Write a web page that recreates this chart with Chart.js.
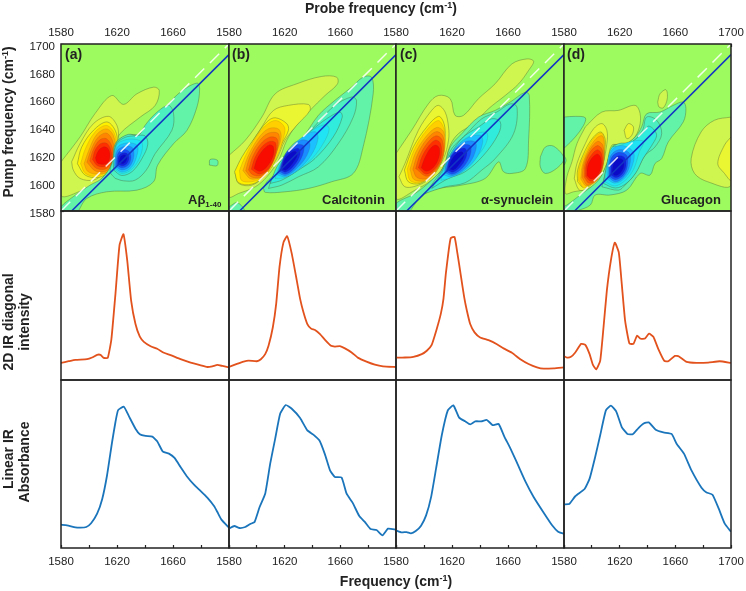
<!DOCTYPE html>
<html>
<head>
<meta charset="utf-8">
<title>2D IR spectra</title>
<script src="https://cdn.jsdelivr.net/npm/chart.js@4"></script>
<style>
  html, body { margin: 0; padding: 0; background: #fff; }
  #page { position: relative; width: 746px; height: 591px; overflow: hidden; font-family: "Liberation Sans", Arial, sans-serif; color: #222; }
  canvas { position: absolute; left: 0; top: 0; }
  .t { position: absolute; font-weight: bold; font-size: 14px; white-space: nowrap; line-height: 16px; z-index: 5; }
  .c { transform: translate(-50%, -50%); }
  .r { transform: translate(-50%, -50%) rotate(-90deg); }
  sup { font-size: 9px; line-height: 0; vertical-align: 5px; }
  sub { font-size: 8px; line-height: 0; vertical-align: -3px; }
</style>
</head>
<body>
<div id="page">
  <div class="t c" style="left:381px;top:8px">Probe frequency (cm<sup>-1</sup>)</div>
  <div class="t c" style="left:396px;top:581px">Frequency (cm<sup>-1</sup>)</div>
  <div class="t r" style="left:8px;top:122px">Pump frequency (cm<sup>-1</sup>)</div>
  <div class="t r" style="left:8px;top:322px">2D IR diagonal</div>
  <div class="t r" style="left:24px;top:322px">intensity</div>
  <div class="t r" style="left:8px;top:459px">Linear IR</div>
  <div class="t r" style="left:24px;top:462px">Absorbance</div>
  <div class="t" style="left:65px;top:46px">(a)</div>
  <div class="t" style="left:232px;top:46px">(b)</div>
  <div class="t" style="left:400px;top:46px">(c)</div>
  <div class="t" style="left:567px;top:46px">(d)</div>
  <div class="t" style="left:188px;top:192px;font-size:13px">Aβ<sub>1-40</sub></div>
  <div class="t" style="left:322px;top:192px;font-size:13px">Calcitonin</div>
  <div class="t" style="left:481px;top:192px;font-size:13px">α-synuclein</div>
  <div class="t" style="left:661px;top:192px;font-size:13px">Glucagon</div>
</div>
<script>
// Tick labels
const probeLabels = [1580, 1620, 1660];
const lastProbeLabels = [1580, 1620, 1660, 1700];
const pumpLabels = [1580, 1600, 1620, 1640, 1660, 1680, 1700];

// Diagonal reference lines of the 2D maps
const whiteDiagX = [1580, 1700];
const whiteDiagY = [1580, 1700];
const blueDiagX = [1587.6, 1700];
const blueDiagY = [1580, 1692.4];

// 2D IR diagonal traces
const diagFreqA = [1580,1585.5,1590.3,1598.6,1602.2,1605.8,1608.2,1610.5,1613.4,1616,1618.9,1621.8,1624.6,1627.3,1630.1,1633.2,1636.3,1639.2,1644,1648.7,1653.5,1658.3,1665.4,1672.6,1679.8,1684.5,1688.1,1691.7,1695.3,1700];
const diagA = [10.1,11.1,11.9,12.3,13.3,14.9,14.9,13.1,13.1,24.2,51,79.8,86.3,70.8,47,33.1,25.6,22.6,20,18.5,16.1,14.7,12.3,10.3,8.7,7.7,8.1,8.9,8.3,7.5];
const diagFreqB = [1580,1585.7,1590.5,1594.1,1600,1602.9,1606,1608.4,1611.5,1613.9,1616.3,1619.1,1621.8,1625.1,1628.7,1631.1,1633.5,1636.3,1639,1641.8,1645.4,1649,1653.3,1656.1,1659.7,1663.3,1668.1,1672.8,1678.8,1684.8,1690.7,1700];
const diagB = [7.7,9.5,10.9,11.5,11.1,12.3,15.3,20.2,31.2,45,66.9,81.3,85.1,74.8,58.9,48,40.1,33.1,30.4,29.6,27.2,23.8,20.2,19.8,20,18.7,16.3,13.1,10.9,9.1,8.1,7.7];
const diagFreqC = [1580,1586.4,1592.4,1598.4,1602,1605.5,1609.1,1612,1613.9,1615.6,1617.5,1619.1,1621.8,1623.9,1626.3,1628.7,1630.6,1633,1636.1,1640.1,1646.1,1652.1,1656.8,1662.8,1668.8,1674.7,1680.7,1685.5,1692.6,1700];
const diagC = [13.3,13.3,13.7,15.3,17.3,20.8,30.2,39.1,48,62.9,75.8,83.9,84.7,74.8,61.9,49,41.1,33.1,28.2,25.2,23.6,21.2,18.7,16.1,12.3,9.5,7.5,6.7,6.9,7.5];
const diagFreqD = [1580,1582.1,1585,1588.1,1592.4,1595.3,1598.4,1600.8,1603.2,1606,1608.4,1610.8,1613.7,1616.5,1619.4,1621.5,1623.9,1627,1629.9,1632.5,1635.1,1638.2,1641.1,1644.2,1647.8,1652.1,1654.9,1659.7,1662.6,1668.1,1675.2,1683.6,1691.9,1700];
const diagD = [14.1,13.3,13.7,16.3,21.4,20.8,15.3,8.9,6.3,11.3,31.2,53,70.8,81.3,75.4,56.9,35.1,21.6,21.4,26.2,24.4,24.6,27.4,25.6,18.3,11.3,11.1,14.3,13.9,10.7,10.1,10.3,11.1,10.1];

// Linear IR traces
const linFreqA = [1580,1584.3,1590.3,1593.8,1598.1,1601.5,1605.8,1609.4,1612.9,1616.5,1618.9,1620.8,1624.9,1628.4,1633.2,1636.3,1640.4,1645.2,1648.7,1652.8,1657.1,1661.1,1665.4,1669.7,1675,1679.8,1684.5,1689.3,1691.7,1694.6,1700];
const linA = [13.9,13.5,12.3,12.1,12.5,14.7,20.4,29,43.3,63.1,75,82.1,84.1,78.6,71,67.7,66.7,66.3,63.5,57.3,56.2,53.6,48.2,42.9,37.7,33.9,30,25,21.4,16.9,12.1];
const linFreqB = [1580,1583.8,1587.6,1591.7,1595.3,1598.4,1602,1606,1609.6,1613.2,1616.8,1620.8,1625.1,1631.1,1636.3,1640.6,1644.9,1649,1652.6,1656.1,1660.9,1664.5,1668.8,1673.6,1677.6,1681.7,1686,1690.3,1694.3,1700];
const linB = [11.5,13.1,11.9,12.5,14.3,15.5,24.4,32.3,50.2,65.1,80,85.1,82.9,77.4,70,67.5,64.1,55.6,46.2,42.3,41.9,32.3,27,19,15.5,11.3,10.7,7.5,11.5,10.9];
const linFreqC = [1580,1584.1,1587.6,1590.7,1594.1,1597.9,1601.5,1605.1,1608.6,1612.7,1617,1621,1625.1,1629.4,1633,1636.6,1640.9,1644.9,1649,1653.3,1657.3,1661.6,1666.4,1672.4,1678.3,1685.5,1691.5,1695.8,1700];
const linC = [10.5,9.3,9.5,8.7,10.1,13.3,19.4,30.4,47.2,67.1,81.9,84.9,77.6,75.4,73.6,75.4,75.4,76.2,73.2,73.8,66.5,59.5,50.8,39.7,30.4,21,13.5,9.7,8.5];
const linFreqD = [1580,1583.8,1588.1,1594.8,1598.4,1602.4,1606,1610.1,1613.7,1617.5,1621.5,1625.6,1629.4,1633.5,1637,1640.9,1645.9,1651.4,1657.3,1660.9,1666.2,1671.6,1678.8,1682.4,1686.7,1691.2,1695.5,1700];
const linD = [26,26.2,30.8,35.1,41.3,54.2,67.1,81.9,84.7,81.3,72,67.9,67.7,71.4,74,74.8,70.4,68.8,67.9,62.1,56.2,46.2,35.9,33.1,31.7,23.4,14.5,9.7];

// Contours read from the maps: first number is the level (+ red side, - blue side),
// then probe,pump pairs in cm-1. Drawn in this order, outermost first.
const ringsA = [
  [1, 1580,1615.3,1593.6,1633.2,1604.3,1650,1616.3,1663,1624.6,1656.6,1634.2,1664.2,1646.1,1669,1650.2,1666.6,1647.3,1655.9,1636.6,1647.5,1622.2,1635.6,1619.4,1628.4,1616.3,1614,1610.3,1604.6,1603.2,1597.4,1596,1595,1580,1591],
  [2, 1587.6,1615.3,1593.6,1628.4,1603.2,1642.8,1613.9,1648,1619.9,1641.6,1621,1633.2,1618.7,1623.7,1616.3,1615.3,1610.3,1607,1603.2,1602.2,1593.6,1603.4,1588.8,1609.4],
  [3, 1591.7,1614,1594.8,1626,1603.2,1638,1612.7,1644,1618.7,1638,1620.3,1628.4,1618,1617.7,1613.9,1608.2,1606.7,1604.1,1597.2,1605.8],
  [4, 1594,1614,1597.5,1625,1604.5,1637,1612.5,1641.5,1618,1636,1619.7,1625,1616,1611,1606,1605,1597.5,1607],
  [5, 1596.5,1614,1600,1624,1605.5,1635,1612.5,1639,1617.5,1634,1619,1622,1614.5,1609,1605.5,1606.5,1599,1608.5],
  [6, 1598.5,1615,1601.5,1624,1606.5,1633,1612.5,1636,1617,1630,1618,1619,1613.5,1609.5,1605,1608.5],
  [7, 1600.5,1616,1603,1624,1607.5,1631,1612.5,1632,1616.5,1626,1617,1617,1612.5,1610.5,1605.5,1610.5],
  [8, 1602.5,1617,1604.5,1624,1608.5,1628.5,1613,1628.5,1616,1622,1615.5,1615.5,1611.5,1612,1606,1612.5],
  [9, 1604.5,1618,1606.5,1623,1610,1626,1613.5,1625,1615,1620,1613.5,1615,1610,1613.5,1606,1614.5],
  [-1, 1592.4,1580,1598.4,1589,1612.7,1593.8,1634.2,1595,1646.1,1601,1649,1612.9,1660.4,1628.4,1670,1638,1677.1,1654.7,1679,1667.8,1677.1,1671.9,1665.2,1665.4,1655.7,1655.9,1646.1,1646.3,1636.6,1635.6,1627,1634.4,1618.7,1628.4,1616.3,1614.1,1609.1,1603.4,1600.8,1598.6,1588.8,1590.3,1580,1583.1,1580,1580],
  [-1, 1686,1613,1691.5,1612.6,1691.7,1616.5,1686.5,1617],
  [-2, 1618.7,1603.4,1624.6,1601.7,1633,1602.2,1640.9,1609.4,1647.3,1621.3,1659.2,1638,1660.4,1649.9,1656.8,1655.9,1647.3,1649.9,1640.1,1641.6,1635.4,1634.4,1628.2,1635.1,1619.9,1629.6,1617,1616.5,1615.1,1608.2],
  [-3, 1617.5,1609.5,1623.4,1605.5,1631,1608.5,1638,1618,1642,1628,1640,1634,1633,1634,1626,1633,1620,1628.5,1617.5,1618],
  [-4, 1617.7,1610.5,1623.5,1607,1630.5,1610,1636.5,1619,1638,1629,1633,1631.5,1625.5,1631,1619.5,1627],
  [-5, 1618,1611.5,1623.5,1608,1630,1611,1634,1619,1634.5,1627,1627.5,1629,1620,1625.5],
  [-6, 1618.5,1612.5,1623.5,1609.5,1629,1612,1632,1619,1631,1625.5,1625.5,1626.5,1620,1623],
  [-7, 1619.5,1613.5,1623.5,1611,1628,1613,1630,1618.5,1628.5,1623,1624,1624,1620.5,1621],
  [-8, 1620.5,1614,1623.5,1612.5,1627,1614,1628.5,1618,1627,1621.5,1623.5,1621.5,1621,1619],
  [-9, 1621.5,1615,1624,1614,1626.5,1616,1627,1619,1625,1620.5,1622.5,1619]
];
const ringsB = [
  [1, 1580,1620,1591.7,1630.8,1603.6,1647.5,1613.2,1664.2,1628.7,1671.4,1646.6,1676.7,1657.3,1676.2,1658,1671.4,1649,1663,1638.2,1652.3,1627.5,1640.4,1621.5,1630.8,1615.6,1616.5,1607.2,1604.6,1598.9,1597.4,1586.9,1592.6,1580,1590.3],
  [2, 1584.5,1607,1591.7,1621.3,1603.6,1640.4,1612,1652.3,1622.7,1655.9,1637,1656.6,1638.2,1652.3,1628.7,1641.6,1620.3,1630.8,1614.4,1617.7,1606,1605.8,1596.5,1598.6,1586.9,1599.8],
  [3, 1584,1608.2,1589.3,1618.9,1598.9,1633.2,1607.2,1644,1613.2,1647,1621.5,1642.8,1622.7,1638,1618,1628.4,1613.2,1617.7,1604.8,1604.6,1596.5,1599.3,1586.9,1600.3],
  [4, 1587.5,1609,1591.5,1619,1599,1632.5,1607,1642,1614,1645,1620,1640,1619,1632,1615,1620,1606,1605,1596,1601,1589,1602],
  [5, 1590,1609,1593.5,1619,1600.5,1631.5,1608,1639,1615.5,1639,1617.5,1633,1613.5,1621,1605.5,1606,1596,1603],
  [6, 1592,1609,1595,1619,1601.5,1630,1608.5,1636,1615.5,1635.5,1615.5,1627,1611,1614,1604,1604.5,1596,1604.5],
  [7, 1594,1609.5,1597,1619,1602.5,1628,1609,1633,1614.5,1632,1614.5,1624,1610,1612,1603,1605.5,1597,1606],
  [8, 1596,1610,1598.5,1618,1603.5,1626,1609,1630,1613.5,1629,1613,1620,1608.5,1610.5,1602,1606.5],
  [9, 1598,1610.5,1600,1617,1604.5,1624,1609,1627.5,1612,1626,1611.5,1619,1607,1611.5,1602,1608.5],
  [-1, 1580,1583,1586,1586,1591,1580,1580,1580],
  [-1, 1604.8,1596.2,1606,1593.4,1620.3,1593.8,1637,1596.2,1653.7,1601,1669.3,1607,1676.4,1626.1,1683.6,1664.2,1682.4,1676.2,1676.4,1676.2,1668.1,1669,1656.1,1659.5,1644.2,1648.7,1632.3,1632,1626.3,1628.4,1619.1,1618.9,1613.2,1607,1607.2,1601],
  [-2, 1608.4,1596.2,1617.9,1598.6,1629.9,1604.6,1644.2,1611.7,1658.5,1628.4,1669.3,1647.5,1671.6,1659.5,1668.1,1661.9,1656.1,1655.9,1645.4,1645.2,1633.5,1632,1623.9,1621.3,1616.8,1612.9,1610.8,1603.4],
  [-3, 1609.6,1599.8,1618,1602.2,1629.9,1609.4,1641.8,1617.7,1654.9,1633.2,1661.4,1647.5,1659.7,1651.1,1650.2,1646.3,1639.4,1638,1629.9,1629.6,1621.5,1621.3,1614.4,1611.7],
  [-4, 1613.2,1603.4,1620,1604,1630,1609.5,1640,1618,1648,1629,1652,1639,1649,1642,1640,1638,1630,1630,1622,1621,1616,1612],
  [-5, 1614.5,1606,1621,1604.5,1630,1610,1639,1620,1644,1632,1642,1637,1634,1634,1625,1626,1617.5,1614.5],
  [-6, 1615,1607.5,1621,1605.5,1629,1611,1636,1620,1638,1629,1632,1631,1624,1624.5,1618,1615],
  [-7, 1616,1608.5,1621,1606.5,1628,1612,1633,1620.5,1633.5,1627,1627,1627,1620.5,1621],
  [-8, 1617,1609.5,1621,1608,1627,1613,1631,1620.5,1630,1625,1625,1623.5,1620,1619],
  [-9, 1618,1610,1621,1609.5,1625.5,1614,1629,1620,1627.5,1623,1623.5,1621,1620,1617]
];
const ringsC = [
  [1, 1580,1621.3,1591.2,1638,1603.2,1657.1,1610.3,1663,1618.7,1660.7,1622.2,1648.7,1628.2,1648.7,1638.9,1660.7,1650.8,1671.4,1662.8,1685.7,1673.6,1689.3,1678.3,1687.6,1674.7,1681,1667.6,1671.4,1658,1663,1646.1,1653.5,1635.4,1642.8,1624.6,1635.6,1618.7,1627.3,1613.9,1611.7,1605.5,1602.2,1593.6,1595,1580,1589],
  [2, 1582.1,1604.6,1586.4,1614.1,1596,1638,1605.5,1652.3,1610.3,1655.9,1615.1,1651.1,1617.5,1640.4,1617.5,1630.8,1613.9,1617.7,1605.5,1604.6,1596,1598.6,1586.4,1597.4],
  [3, 1586,1609.4,1592.4,1626,1602,1640.4,1610.3,1648,1613.9,1644,1615.1,1635.6,1612.7,1620,1605.5,1607,1597.2,1599.8,1588.8,1601],
  [4, 1588,1610,1593,1624,1601,1637,1610,1645,1614,1640,1615,1632,1612.5,1619,1605,1605,1597,1600.5,1590,1602],
  [5, 1590,1610,1594,1622,1601,1633,1609,1640,1614,1637,1615,1626,1611,1612,1603,1602.5,1593,1602.5],
  [6, 1592,1610,1595.5,1621,1601.5,1631,1608.5,1637,1613.5,1634,1614.5,1623,1610,1611,1602.5,1603.5,1595,1604],
  [7, 1594,1610.5,1597,1620,1602.5,1629,1608.5,1634,1613,1631,1613.5,1620,1609,1610.5,1602,1605],
  [8, 1596,1611,1598.5,1619,1603.5,1627,1608.5,1631,1612,1628,1612,1618,1607.5,1610,1601.5,1606.5],
  [9, 1598,1611,1600.5,1618,1604.5,1625,1608.5,1627.5,1611,1625,1610.5,1618,1606.5,1611,1601.5,1608.5],
  [-1, 1590,1580,1596,1587.9,1605.5,1595,1627,1598.6,1643.7,1603.4,1653.3,1615.3,1656.8,1608.2,1662.8,1607,1672.4,1610.5,1674.7,1630.8,1675.2,1663,1672.4,1665.4,1661.6,1658.3,1650.9,1652.3,1639,1647.5,1627,1635.6,1618.7,1626,1613.9,1611.7,1605.5,1602.2,1593.6,1592.6,1580,1585.5,1580,1580],
  [-1, 1683.1,1618.9,1686.7,1626,1692.7,1626.5,1700,1617.7,1694.6,1610.5,1686.7,1607,1683.1,1611.7],
  [-2, 1600.8,1592.6,1615.1,1597.4,1629.4,1600.3,1641.3,1609.4,1650.9,1617.7,1664,1635.6,1666.4,1654.7,1661.6,1657,1652,1651.1,1641.3,1646.3,1629.4,1634.4,1619.9,1624.9,1612.7,1609.4],
  [-3, 1605.5,1596.2,1617.5,1603.4,1629.4,1608.2,1642.5,1620,1653.3,1635.6,1654.5,1644,1648.5,1646.3,1639,1640.4,1628.2,1633.2,1619.9,1622.5,1612.7,1608.2],
  [-4, 1612,1602,1618,1603.5,1628,1609,1636,1617,1644,1628,1645,1636,1638,1636,1628,1631,1620,1622,1614,1610],
  [-5, 1614,1606,1620,1604.5,1630,1610,1638,1619,1642,1630,1640,1634.5,1631,1632.5,1621,1624,1615.5,1612.5],
  [-6, 1615,1607.5,1620.5,1605.5,1629,1610.5,1635.5,1619.5,1637,1629,1630,1630,1621,1623,1616,1614],
  [-7, 1615.5,1608.5,1620.5,1606.5,1628,1611.5,1633,1620,1633,1627,1626.5,1627,1619.5,1620],
  [-8, 1616.5,1609.5,1621,1608,1627,1613,1630.5,1620,1629.5,1625,1624.5,1624,1619,1618.5],
  [-9, 1617.5,1610.5,1621,1609.5,1625.5,1614,1628.5,1619.5,1627,1622.5,1623,1621,1619.5,1616.5]
];
const ringsD = [
  [-1, 1580,1647.5,1588.1,1648,1595.3,1647,1594.1,1641.6,1588.1,1633.2,1581,1626,1580,1625.6],
  [-1, 1580,1620,1581.5,1616.5,1580,1613],
  [1, 1595.3,1640.4,1607.2,1651.1,1619.1,1652.3,1631.1,1655.9,1634.7,1649.9,1634.2,1640.4,1629.9,1632,1621.5,1627.3,1614.4,1627.3,1610.8,1614.1,1604.8,1602.2,1597.7,1596.2,1586.9,1593.8,1581,1592.6,1582.1,1604.6,1585.7,1615.3,1589.3,1628.4],
  [2, 1623.2,1638,1626.3,1642.8,1629.9,1640.4,1628.7,1634.4,1625.1,1632],
  [1, 1647.3,1658.3,1649,1664.2,1653.3,1667.1,1654.2,1660.7,1651.4,1654.2,1648.3,1654.7],
  [1, 1700,1647.5,1688.1,1645.2,1678.5,1636.8,1671.4,1617.7,1673.8,1607,1683.3,1601,1700,1598.6],
  [2, 1700,1633.2,1695.3,1627.3,1690.5,1614.1,1695.3,1607,1700,1602.2],
  [2, 1587.4,1603.4,1589.3,1614.1,1595.3,1628.4,1601.2,1639,1607.2,1642.8,1610.8,1638,1610.8,1628.4,1607.2,1611.7,1601.2,1601,1594.1,1595,1590.5,1595.5],
  [3, 1589.8,1601,1589.8,1609.4,1595.3,1623.7,1601.2,1633.2,1606.5,1636.8,1609.5,1632,1609.5,1626,1607.5,1611.7,1601,1602.2,1594,1597],
  [4, 1590.5,1602,1591,1611,1596,1623,1601.5,1632.5,1607,1636,1609,1631,1609,1624,1606.5,1611.5,1600.5,1601.5,1594.5,1596.5],
  [5, 1592,1603,1593,1612,1597,1623,1603,1632,1607.5,1634,1609,1627,1607,1612,1601.5,1602,1596,1598],
  [6, 1593,1604,1594,1613,1598,1623,1604,1630,1608,1627,1608.5,1614,1604,1602.5,1597,1598.5],
  [7, 1594.5,1604.5,1595,1613,1598.5,1622,1604,1627,1607.5,1624,1608,1613,1604,1603,1598,1600],
  [8, 1595.5,1605,1596,1613,1599.5,1620,1604,1624,1607,1621,1607.5,1612,1604,1604,1599,1601.5],
  [9, 1596.5,1605.5,1597,1612,1600,1618,1604,1621,1606.5,1618,1606.5,1611,1603.5,1605,1599.5,1603],
  [-1, 1589.3,1580,1598.9,1584.3,1602.4,1591.5,1613.2,1591.5,1625.1,1595,1634.7,1607,1641.8,1605.8,1645.4,1614.1,1650.2,1617.7,1654.9,1629.6,1665.7,1644,1667.6,1653.5,1665.7,1658.3,1658.5,1655.9,1649,1651.1,1639.4,1649.9,1635.8,1640.4,1631.1,1633.2,1622.7,1627.3,1615.6,1627.3,1610.8,1614.1,1604.8,1602.2,1591.7,1591.5,1582.1,1584.3,1580,1583,1580,1580],
  [-2, 1607.2,1597.4,1619.1,1595,1623.9,1598.6,1631.1,1607,1638.2,1620,1645.4,1626,1650.2,1635.6,1646.6,1645.2,1639.4,1647.5,1636.4,1638,1628.7,1629.6,1619.1,1628.4,1614.4,1624.9,1610.8,1611.7],
  [-3, 1608.4,1599.8,1617,1596.5,1625,1600,1632,1608,1637,1618,1643,1627,1646.5,1635,1641,1641,1636.5,1636,1627,1628.5,1620,1626.5,1614.5,1625,1610.5,1612],
  [-4, 1609.5,1601,1616.5,1598,1624,1602,1630,1610,1634,1622,1637,1630,1628,1630,1620,1627,1614,1625,1611,1613],
  [-5, 1611,1603,1616.5,1600,1623,1603,1628.5,1611,1630,1622,1622,1627,1614.5,1624,1611.5,1614],
  [-6, 1612,1604,1617,1601,1623,1604.5,1627,1612,1627,1621.5,1619,1624,1613,1618.5],
  [-7, 1612.5,1605,1617,1602.5,1622.5,1605.5,1625.5,1612,1625,1620,1618.5,1622,1613.5,1617],
  [-8, 1613.5,1606,1617.5,1604,1622,1607,1624.5,1612.5,1623.5,1618.5,1618.5,1619.5,1614.5,1615],
  [-9, 1614.5,1607,1617.5,1605.5,1621,1608,1623,1612.5,1622,1617,1618.5,1617.5,1615.5,1613.5]
];

// Contour fill per level
const mapBackground = '#9dfb5f';
const redLevels = ['#cff64e', '#eaf632', '#fff000', '#ffcf00', '#ffaa00', '#ff8500', '#ff5c00', '#ff3000', '#f80c00'];
const blueLevels = ['#62f3a8', '#4cf0c0', '#30ecdc', '#20e4f4', '#1cc0ff', '#1a8cff', '#1650f4', '#1020e0', '#0a0ac8'];

// Panel edges in page pixels
const colEdges = [61, 229, 396, 564, 731];
const rowEdges = [44, 211, 380, 548];
const axisSize = { top: 30, left: 50, bottom: 30 };
const tickFont = { family: '"Liberation Sans", Arial, sans-serif', size: 11.5 };

function toPoints(xs, ys) {
  return xs.map((x, i) => ({ x: x, y: ys[i] }));
}

function ringPoints(ring) {
  const pts = [];
  for (let i = 1; i < ring.length; i += 2) pts.push({ x: ring[i], y: ring[i + 1] });
  pts.push(pts[0]);
  return pts;
}

// Plot background and frame
const framePlugin = {
  id: 'frame',
  beforeDatasetsDraw(chart, args, opts) {
    if (!opts.fill) return;
    const a = chart.chartArea;
    chart.ctx.fillStyle = opts.fill;
    chart.ctx.fillRect(a.left, a.top, a.width, a.height);
  },
  afterDraw(chart) {
    const a = chart.chartArea;
    chart.ctx.strokeStyle = '#222';
    chart.ctx.lineWidth = 1.5;
    chart.ctx.strokeRect(a.left, a.top, a.width, a.height);
  }
};

// Inward tick marks on a visible axis, with the size fixed so plots line up
function tickAxis(position, size, labels) {
  return {
    type: 'linear', position: position, min: 1580, max: 1700,
    afterFit(scale) {
      if (position === 'left') scale.width = size; else scale.height = size;
      scale.paddingLeft = scale.paddingRight = scale.paddingTop = scale.paddingBottom = 0;
    },
    border: { display: false },
    grid: { drawOnChartArea: false, tickLength: -3, tickColor: '#222', tickWidth: 1.2 },
    ticks: {
      stepSize: 20, autoSkip: false, maxRotation: 0,
      padding: position === 'top' ? 7 : (position === 'bottom' ? 10 : 9),
      labelOffset: position === 'left' ? 2.5 : 0,
      color: '#222', font: tickFont,
      callback: v => labels.includes(v) ? String(v) : ''
    }
  };
}

function hiddenAxis(min, max) {
  return { type: 'linear', display: false, min: min, max: max };
}

function addPanel(col, row, datasets, scales, fill) {
  const canvas = document.createElement('canvas');
  canvas.width = 746;
  canvas.height = 591;
  document.getElementById('page').appendChild(canvas);
  const padding = {
    left: colEdges[col] - (scales.y.display === false ? 0 : axisSize.left),
    right: 746 - colEdges[col + 1],
    top: rowEdges[row] - (scales.x.position === 'top' ? axisSize.top : 0),
    bottom: 591 - rowEdges[row + 1] - (scales.x.position === 'bottom' ? axisSize.bottom : 0)
  };
  new Chart(canvas, {
    type: 'scatter',
    data: { datasets: datasets },
    options: {
      responsive: false,
      animation: false,
      layout: { padding: padding },
      scales: scales,
      plugins: { legend: { display: false }, tooltip: { enabled: false }, frame: { fill: fill } }
    },
    plugins: [framePlugin]
  });
}

function traceDataset(xs, ys, color) {
  return { data: toPoints(xs, ys), showLine: true, borderColor: color, borderWidth: 1.8, pointRadius: 0, tension: 0.15 };
}

function mapDatasets(rings) {
  const sets = rings.map((ring, i) => {
    const level = ring[0];
    return {
      data: ringPoints(ring),
      showLine: true,
      fill: 'shape',
      backgroundColor: level > 0 ? redLevels[level - 1] : blueLevels[-level - 1],
      borderColor: Math.abs(level) <= 3 ? 'rgba(70,90,50,0.55)' : 'rgba(70,60,50,0.2)',
      borderWidth: 0.7,
      pointRadius: 0,
      tension: 0.35,
      order: rings.length - i + 2
    };
  });
  sets.push({
    data: toPoints(blueDiagX, blueDiagY), showLine: true, borderColor: '#1234c4', borderWidth: 1.5, pointRadius: 0, order: 1
  });
  sets.push({
    data: toPoints(whiteDiagX, whiteDiagY), showLine: true, borderColor: 'rgba(255,255,255,0.85)', borderWidth: 1.5,
    borderDash: [13, 8], pointRadius: 0, order: 0
  });
  return sets;
}

const allRings = [ringsA, ringsB, ringsC, ringsD];
const diagTraces = [[diagFreqA, diagA], [diagFreqB, diagB], [diagFreqC, diagC], [diagFreqD, diagD]];
const linTraces = [[linFreqA, linA], [linFreqB, linB], [linFreqC, linC], [linFreqD, linD]];

for (let col = 0; col < 4; col++) {
  const labels = col === 3 ? lastProbeLabels : probeLabels;
  addPanel(col, 0, mapDatasets(allRings[col]), {
    x: tickAxis('top', axisSize.top, labels),
    y: col === 0 ? tickAxis('left', axisSize.left, pumpLabels) : hiddenAxis(1580, 1700)
  }, mapBackground);
  addPanel(col, 1, [traceDataset(diagTraces[col][0], diagTraces[col][1], '#e2521d')], {
    x: hiddenAxis(1580, 1700), y: hiddenAxis(0, 100)
  });
  addPanel(col, 2, [traceDataset(linTraces[col][0], linTraces[col][1], '#1b75bb')], {
    x: tickAxis('bottom', axisSize.bottom, labels), y: hiddenAxis(0, 100)
  });
}
</script>
</body>
</html>
